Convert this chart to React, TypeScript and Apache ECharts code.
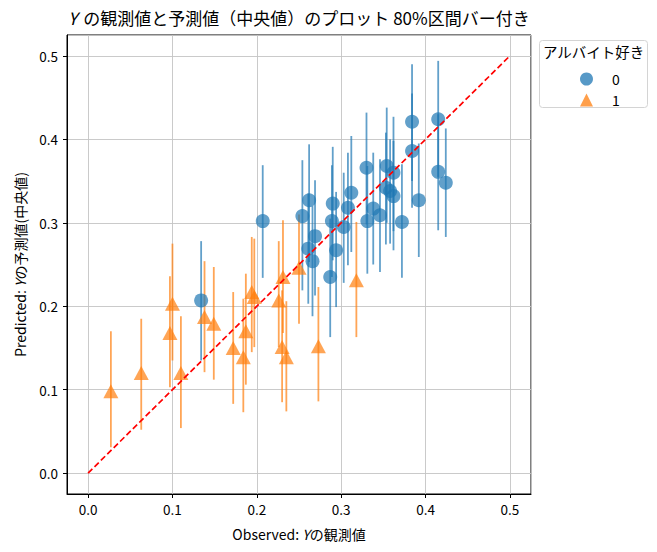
import React, { useEffect, useRef } from "react";
import * as echarts from "echarts";

// Group 0 (アルバイト好き = 0)
const obs0 = [0.134, 0.207, 0.254, 0.262, 0.261, 0.266, 0.269, 0.287, 0.289, 0.29, 0.294, 0.303, 0.308, 0.312, 0.33, 0.331, 0.338, 0.346, 0.353, 0.354, 0.358, 0.362, 0.362, 0.372, 0.384, 0.384, 0.392, 0.415, 0.415, 0.424];
const pred0 = [0.207, 0.302, 0.308, 0.327, 0.269, 0.254, 0.284, 0.235, 0.302, 0.323, 0.267, 0.295, 0.318, 0.336, 0.366, 0.302, 0.317, 0.309, 0.342, 0.368, 0.338, 0.36, 0.332, 0.301, 0.421, 0.386, 0.327, 0.424, 0.361, 0.348];
const lo0 = [0.135, 0.234, 0.219, 0.253, 0.203, 0.188, 0.213, 0.163, 0.235, 0.255, 0.199, 0.228, 0.249, 0.265, 0.298, 0.239, 0.25, 0.241, 0.274, 0.3, 0.275, 0.29, 0.267, 0.234, 0.35, 0.318, 0.259, 0.355, 0.291, 0.283];
const hi0 = [0.278, 0.369, 0.375, 0.394, 0.335, 0.32, 0.351, 0.305, 0.369, 0.391, 0.337, 0.36, 0.384, 0.404, 0.432, 0.368, 0.384, 0.376, 0.408, 0.438, 0.4, 0.427, 0.398, 0.37, 0.49, 0.455, 0.395, 0.494, 0.43, 0.413];

// Group 1 (アルバイト好き = 1)
const obs1 = [0.027, 0.063, 0.097, 0.1, 0.11, 0.138, 0.149, 0.172, 0.184, 0.187, 0.194, 0.197, 0.226, 0.23, 0.235, 0.231, 0.25, 0.273, 0.318];
const pred1 = [0.098, 0.12, 0.168, 0.203, 0.12, 0.187, 0.179, 0.15, 0.139, 0.17, 0.217, 0.211, 0.207, 0.151, 0.139, 0.235, 0.246, 0.152, 0.231];
const lo1 = [0.031, 0.052, 0.103, 0.135, 0.054, 0.121, 0.112, 0.083, 0.073, 0.106, 0.145, 0.151, 0.151, 0.085, 0.074, 0.168, 0.179, 0.086, 0.163];
const hi1 = [0.17, 0.185, 0.236, 0.275, 0.188, 0.254, 0.247, 0.217, 0.209, 0.239, 0.283, 0.281, 0.278, 0.219, 0.206, 0.303, 0.31, 0.223, 0.301];

const diagX = [0, 0.5];
const groupNames = ["0", "1"];
const legendTitle = "アルバイト好き";

const BLUE = "#1f77b4";
const ORANGE = "#ff7f0e";
const FONT = "'Noto Sans CJK JP', 'Noto Sans', sans-serif";

function errSeries(name: string, xs: number[], los: number[], his: number[], color: string) {
  return {
    type: "custom",
    name,
    data: xs.map((x, i) => [x, los[i], his[i]]),
    encode: { x: 0, y: [1, 2] },
    renderItem: (_params: any, api: any) => {
      const x = api.value(0);
      const p1 = api.coord([x, api.value(1)]);
      const p2 = api.coord([x, api.value(2)]);
      return {
        type: "line",
        shape: { x1: p1[0], y1: p1[1], x2: p2[0], y2: p2[1] },
        style: { stroke: color, lineWidth: 1.8, opacity: 0.7 },
      };
    },
    silent: true,
  };
}

export default function App() {
  const ref = useRef<HTMLDivElement>(null);
  useEffect(() => {
    document.body.style.margin = "0";
    const chart = echarts.init(ref.current!, null, { renderer: "svg" });
    const fmt = (v: number) =>
      Math.abs(v * 10 - Math.round(v * 10)) < 1e-6 ? v.toFixed(1) : "";
    const axisCommon = {
      type: "value",
      min: -0.025,
      max: 0.525,
      axisLine: { show: true, onZero: false, lineStyle: { color: "#000", width: 1 } },
      axisTick: { show: true, length: 4, lineStyle: { color: "#000", width: 1 } },
      splitLine: { show: true, lineStyle: { color: "#c4c4c4", width: 0.9 } },
      axisLabel: {
        formatter: fmt,
        showMinLabel: false,
        showMaxLabel: false,
        color: "#000",
        fontSize: 13.5,
        fontFamily: FONT,
      },
      nameLocation: "middle",
    };
    const nameStyle = {
      fontSize: 14,
      color: "#000",
      fontFamily: FONT,
      rich: { i: { fontSize: 14, fontStyle: "italic", color: "#000", fontFamily: FONT } },
    };
    chart.setOption({
      animation: false,
      textStyle: { fontFamily: FONT },
      title: {
        text: "{i|Y}{s| }の観測値と予測値（中央値）のプロット 80%区間バー付き",
        left: 299,
        top: 9,
        padding: 0,
        textAlign: "center",
        textStyle: {
          fontSize: 17,
          fontWeight: "normal",
          color: "#000",
          fontFamily: FONT,
          rich: {
            i: { fontSize: 17, fontStyle: "italic", color: "#000", fontFamily: FONT },
            s: { fontSize: 17, width: 6, fontFamily: FONT },
          },
        },
      },
      grid: {
        left: 67,
        top: 35,
        width: 464,
        height: 459,
        show: true,
        borderColor: "#000",
        borderWidth: 1,
        containLabel: false,
      },
      xAxis: {
        ...axisCommon,
        axisLabel: { ...axisCommon.axisLabel, margin: 8 },
        name: "Observed: {i|Y}の観測値",
        nameGap: 33,
        nameTextStyle: nameStyle,
      },
      yAxis: {
        ...axisCommon,
        axisLabel: { ...axisCommon.axisLabel, margin: 9 },
        name: "Predicted: {i|Y}の予測値(中央値)",
        nameGap: 40,
        nameTextStyle: nameStyle,
      },
      legend: {
        orient: "vertical",
        left: 575,
        top: 67,
        itemWidth: 13,
        itemHeight: 13,
        itemGap: 7,
        selectedMode: false,
        textStyle: { fontSize: 14, color: "#000", fontFamily: FONT, padding: [0, 0, 0, 14] },
        data: [
          { name: groupNames[0], icon: "circle", itemStyle: { color: BLUE, opacity: 0.75 } },
          { name: groupNames[1], icon: "triangle", itemStyle: { color: ORANGE, opacity: 0.75 } },
        ],
      },
      graphic: [
        {
          type: "rect",
          left: 539,
          top: 40,
          shape: { width: 108, height: 67, r: 3 },
          style: { fill: "#fff", stroke: "#d4d4d4", lineWidth: 1 },
          z: 0,
        },
        {
          type: "text",
          left: 543,
          top: 44,
          style: { text: legendTitle, fontSize: 14.5, fill: "#000", fontFamily: FONT },
          z: 1,
        },
      ],
      series: [
        errSeries("err0", obs0, lo0, hi0, BLUE),
        {
          type: "scatter",
          name: groupNames[0],
          data: obs0.map((x, i) => [x, pred0[i]]),
          symbol: "circle",
          symbolSize: 14,
          itemStyle: { color: BLUE, opacity: 0.7 },
          silent: true,
        },
        errSeries("err1", obs1, lo1, hi1, ORANGE),
        {
          type: "scatter",
          name: groupNames[1],
          data: obs1.map((x, i) => [x, pred1[i]]),
          symbol: "triangle",
          symbolSize: [15, 14],
          itemStyle: { color: ORANGE, opacity: 0.7 },
          silent: true,
        },
        {
          type: "line",
          name: "diag",
          data: diagX.map((v) => [v, v]),
          symbol: "none",
          lineStyle: { color: "#ff0000", width: 1.7, type: [6, 3] },
          silent: true,
          z: 5,
        },
      ],
    });
    return () => chart.dispose();
  }, []);
  return <div ref={ref} style={{ width: 657, height: 552 }} />;
}
